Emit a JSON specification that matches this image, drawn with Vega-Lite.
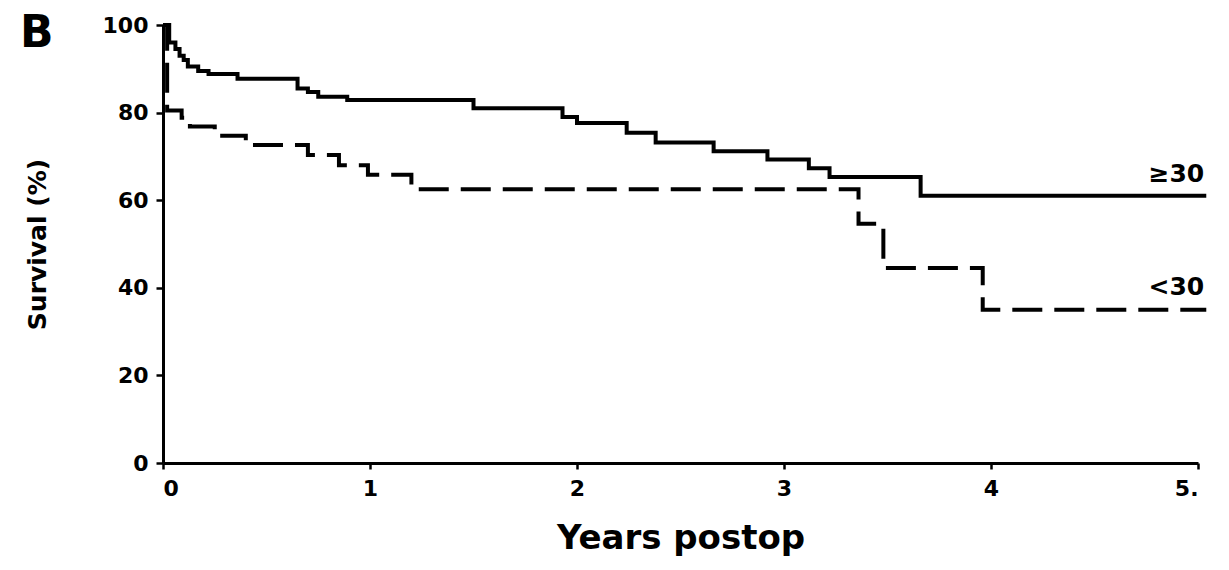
{
  "$schema": "https://vega.github.io/schema/vega-lite/v6.json",
  "autosize": {"type": "none"},
  "width": 1035,
  "height": 438,
  "padding": {"left": 163, "top": 25, "right": 31, "bottom": 107},
  "background": "white",
  "config": {
    "view": {"stroke": null},
    "axis": {"grid": false, "domainColor": "black", "domainWidth": 3, "tickColor": "black", "tickWidth": 2.5,
      "labelFont": "DejaVu Sans", "labelFontWeight": "bold", "labelFontSize": 22, "labelColor": "black",
      "titleFont": "DejaVu Sans", "titleFontWeight": "bold", "titleColor": "black"}
  },
  "title": {"text": "B", "anchor": "start", "frame": "group", "font": "DejaVu Sans", "fontWeight": "bold", "fontSize": 44, "color": "black", "dx": -143, "dy": 42, "offset": 0},
  "datasets": {
    "curves": [
      {"years": 0, "survival": 100, "group": "≥30"},
      {"years": 0.03, "survival": 96, "group": "≥30"},
      {"years": 0.06, "survival": 94.5, "group": "≥30"},
      {"years": 0.08, "survival": 93, "group": "≥30"},
      {"years": 0.10, "survival": 92, "group": "≥30"},
      {"years": 0.12, "survival": 90.5, "group": "≥30"},
      {"years": 0.17, "survival": 89.5, "group": "≥30"},
      {"years": 0.22, "survival": 88.8, "group": "≥30"},
      {"years": 0.36, "survival": 87.7, "group": "≥30"},
      {"years": 0.65, "survival": 85.5, "group": "≥30"},
      {"years": 0.70, "survival": 84.7, "group": "≥30"},
      {"years": 0.75, "survival": 83.6, "group": "≥30"},
      {"years": 0.89, "survival": 82.9, "group": "≥30"},
      {"years": 1.50, "survival": 81, "group": "≥30"},
      {"years": 1.93, "survival": 79, "group": "≥30"},
      {"years": 2.0, "survival": 77.6, "group": "≥30"},
      {"years": 2.24, "survival": 75.4, "group": "≥30"},
      {"years": 2.38, "survival": 73.2, "group": "≥30"},
      {"years": 2.66, "survival": 71.2, "group": "≥30"},
      {"years": 2.92, "survival": 69.3, "group": "≥30"},
      {"years": 3.12, "survival": 67.3, "group": "≥30"},
      {"years": 3.22, "survival": 65.3, "group": "≥30"},
      {"years": 3.66, "survival": 61, "group": "≥30"},
      {"years": 5.04, "survival": 61, "group": "≥30"},
      {"years": 0, "survival": 100, "group": "<30"},
      {"years": 0.02, "survival": 80.5, "group": "<30"},
      {"years": 0.09, "survival": 78.8, "group": "<30"},
      {"years": 0.13, "survival": 76.8, "group": "<30"},
      {"years": 0.25, "survival": 74.7, "group": "<30"},
      {"years": 0.40, "survival": 72.6, "group": "<30"},
      {"years": 0.70, "survival": 70.3, "group": "<30"},
      {"years": 0.85, "survival": 68, "group": "<30"},
      {"years": 0.99, "survival": 65.8, "group": "<30"},
      {"years": 1.20, "survival": 62.5, "group": "<30"},
      {"years": 3.36, "survival": 54.6, "group": "<30"},
      {"years": 3.48, "survival": 44.5, "group": "<30"},
      {"years": 3.96, "survival": 35, "group": "<30"},
      {"years": 5.04, "survival": 35, "group": "<30"}
    ],
    "labels": [
      {"years": 5.03, "survival": 66, "label": "≥30"},
      {"years": 5.03, "survival": 40.2, "label": "<30"}
    ]
  },
  "layer": [
    {
      "data": {"name": "curves"},
      "mark": {"type": "line", "interpolate": "step-after", "color": "black", "strokeWidth": 4, "strokeCap": "butt"},
      "encoding": {
        "x": {"field": "years", "type": "quantitative", "scale": {"domain": [0, 5], "nice": false},
          "axis": {"values": [0, 1, 2, 3, 4, 5], "format": "d", "tickSize": 6, "labelPadding": 9, "title": "Years postop", "titleFontSize": 34, "titlePadding": 22,
            "labelExpr": "datum.value == 5 ? '5.' : datum.label"}},
        "y": {"field": "survival", "type": "quantitative", "scale": {"domain": [0, 100], "nice": false},
          "axis": {"values": [0, 20, 40, 60, 80, 100], "format": "d", "tickSize": 7, "labelPadding": 8, "title": "Survival (%)", "titleFontSize": 25, "titlePadding": 52}},
        "strokeDash": {"field": "group", "type": "nominal", "scale": {"domain": ["≥30", "<30"], "range": [[1, 0], [30, 12]]}, "legend": null},
        "detail": {"field": "group"}
      }
    },
    {
      "data": {"name": "labels"},
      "mark": {"type": "text", "align": "right", "baseline": "middle", "font": "DejaVu Sans", "fontWeight": "bold", "fontSize": 25, "color": "black"},
      "encoding": {
        "x": {"field": "years", "type": "quantitative"},
        "y": {"field": "survival", "type": "quantitative"},
        "text": {"field": "label"}
      }
    }
  ]
}
